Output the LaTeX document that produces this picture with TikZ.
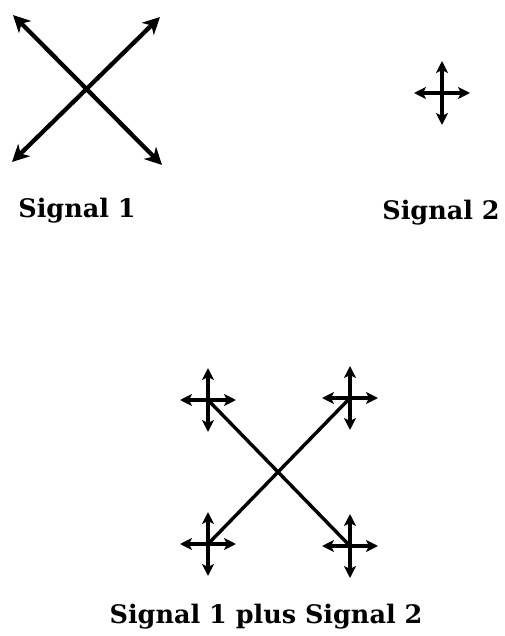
\documentclass[tikz,border=0pt]{standalone}
\usepackage{fontspec}
\setmainfont{DejaVu Serif}
\usetikzlibrary{arrows.meta}
\begin{document}
\begin{tikzpicture}[x=1pt,y=-1pt,
  bigtip/.tip={Stealth[length=17pt,width=17pt,inset=5pt]},
  smalltip/.tip={Stealth[length=12pt,width=12pt,inset=3pt]},
  bigvec/.style={line width=4.3pt,bigtip-bigtip},
  smallvec/.style={line width=3.4pt,smalltip-smalltip},
  sumline/.style={line width=3.4pt},
  caption/.style={font=\bfseries\fontsize{25.5}{30}\selectfont, inner sep=0pt, anchor=base},
  crossarrows/.pic={
    \coordinate (-w) at (-28,0); \coordinate (-e) at (28,0);
    \coordinate (-n) at (0,-32); \coordinate (-s) at (0,32);
    \draw[smallvec] (-w) -- (-e);
    \draw[smallvec] (-n) -- (-s);
  }]
\useasboundingbox (0,0) rectangle (504,636);

% Signal 1: two crossing double-headed vectors
\coordinate (s1ul) at (13,15);
\coordinate (s1lr) at (162,165);
\coordinate (s1ur) at (160,17);
\coordinate (s1ll) at (12,162);
\draw[bigvec] (s1ul) -- (s1lr);
\draw[bigvec] (s1ll) -- (s1ur);
\node[caption] (lab1) at (77,218) {Signal 1};

% Signal 2: small cross of vectors
\pic (s2) at (442,93) {crossarrows};
\node[caption] (lab2) at (441,219) {Signal 2};

% Sum: Signal 1 with Signal 2 attached at each end
\coordinate (ul) at (208,400);
\coordinate (ur) at (350,398);
\coordinate (ll) at (208,544);
\coordinate (lr) at (350,546);
\draw[sumline] (ul) -- (lr);
\draw[sumline] (ll) -- (ur);
\pic (cul) at (ul) {crossarrows};
\pic (cur) at (ur) {crossarrows};
\pic (cll) at (ll) {crossarrows};
\pic (clr) at (lr) {crossarrows};
\node[caption] (lab3) at (266,623) {Signal 1 plus Signal 2};
\end{tikzpicture}
\end{document}
